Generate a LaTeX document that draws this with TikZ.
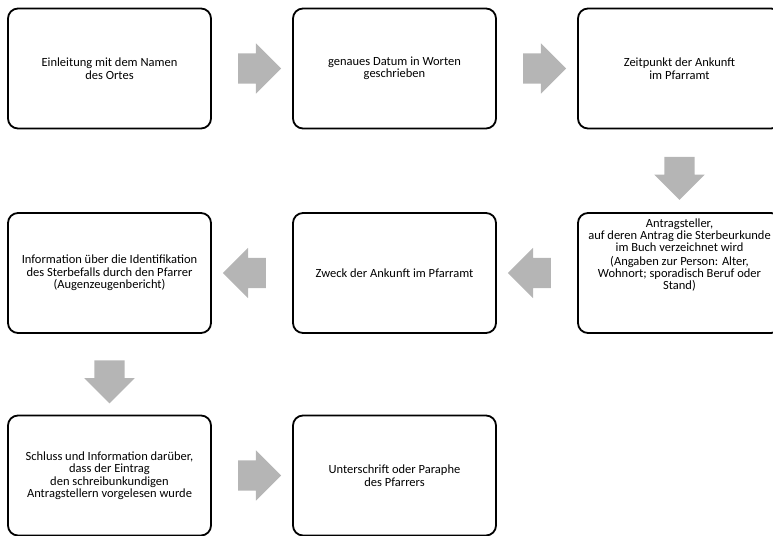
\documentclass[tikz,border=0pt]{standalone}
\usepackage{fontspec}
\setmainfont{Carlito}
\usepackage{xcolor}
\usetikzlibrary{shapes.arrows, calc}

\definecolor{arrowgray}{RGB}{181,181,181}

\tikzset{
  box/.style={draw=black, line width=1.8pt, rounded corners=10pt,
    minimum width=203pt, minimum height=120pt, align=center,
    font=\fontsize{12.5}{12.5}\selectfont},
  boxtext/.style={align=center, inner sep=0pt,
    font=\fontsize{12.5}{10.8}\selectfont},
  blockarrow/.style={single arrow, fill=arrowgray, draw=none,
    inner xsep=0pt, inner ysep=15pt, minimum height=43pt,
    minimum width=50pt, single arrow head extend=10pt, rotate=#1},
  blockarrow/.default=0
}

\begin{document}
\begin{tikzpicture}[x=1pt, y=-1pt]
        \useasboundingbox (0,0) rectangle (773,535);

        \node[box] (ort)       at (109.5,68.5) {Einleitung mit dem Namen\\des Ortes};
        \node[box] (datum)     at (394.5,68.5) {genaues Datum in Worten\\geschrieben};
        \node[box] (zeitpunkt) at (679.5,68.5) {Zeitpunkt der Ankunft\\im Pfarramt};

        \node[box] (antrag)         at (679.5,273) {};
        \node[box] (zweck)          at (394.5,273) {Zweck der Ankunft im Pfarramt};
        \node[box] (identifikation) at (109.5,273) {Information über die Identifikation\\des Sterbefalls durch den Pfarrer\\(Augenzeugenbericht)};

        \node[box] (schluss)      at (109.5,475.5) {Schluss und Information darüber,\\dass der Eintrag\\den schreibunkundigen\\Antragstellern vorgelesen wurde};
        \node[box] (unterschrift) at (394.5,475.5) {Unterschrift oder Paraphe\\des Pfarrers};

        \node[boxtext, yshift=18pt] (antragtext) at (antrag) {Antragsteller,\\auf deren Antrag die Sterbeurkunde\\im Buch verzeichnet wird\\[3.5pt](Angaben zur Person: Alter,\\Wohnort; sporadisch Beruf oder\\Stand)};

        \node[blockarrow]     (a1) at ($(ort.east)!0.5!(datum.west)$) {};
        \node[blockarrow]     (a2) at ($(datum.east)!0.5!(zeitpunkt.west)$) {};
        \node[blockarrow=-90] (a3) at ($(zeitpunkt.south)!0.5!(antrag.north)$) {};
        \node[blockarrow=180] (a4) at ($(antrag.west)!0.5!(zweck.east)$) {};
        \node[blockarrow=180] (a5) at ($(zweck.west)!0.5!(identifikation.east)$) {};
        \node[blockarrow=-90] (a6) at ($(identifikation.south)!0.5!(schluss.north)$) {};
        \node[blockarrow]     (a7) at ($(schluss.east)!0.5!(unterschrift.west)$) {};
    \end{tikzpicture}
\end{document}
